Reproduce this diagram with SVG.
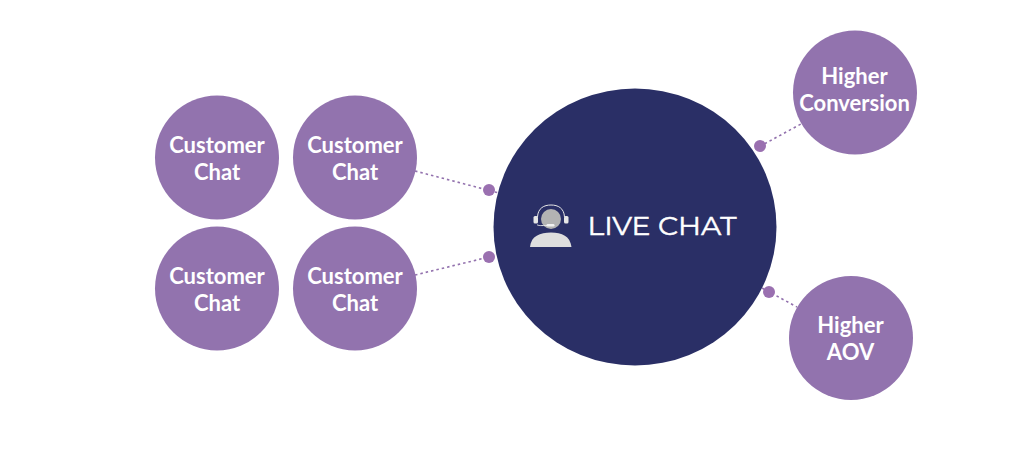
<svg xmlns="http://www.w3.org/2000/svg" width="1030" height="470" viewBox="0 0 1030 470">
<style>
.bub{fill:#9273ae}
.t{font-family:Lato,"Open Sans",sans-serif;font-weight:700;font-size:22px;fill:#fff;text-anchor:middle}
.c{stroke:#9372ae;stroke-width:1.6;stroke-dasharray:2.5 3;fill:none}
.d{fill:#9a70b0}
</style>
<rect width="1030" height="470" fill="#fff"/>
<g id="connectors">
<path class="c" d="M415 171L499 193"/>
<path class="c" d="M415 275L489 257"/>
<path class="c" d="M755 149L801 124"/>
<path class="c" d="M762 288L797 307"/>
<circle class="d" cx="489" cy="190" r="6"/>
<circle class="d" cx="489" cy="257" r="6"/>
<circle class="d" cx="760" cy="146" r="6"/>
<circle class="d" cx="769" cy="292" r="6"/>
</g>
<g id="chat1"><circle class="bub" cx="217" cy="157.500" r="62"/><text class="t" x="217" y="153">Customer</text><text class="t" x="217" y="180">Chat</text></g>
<g id="chat2"><circle class="bub" cx="355" cy="157.500" r="62"/><text class="t" x="355" y="153">Customer</text><text class="t" x="355" y="180">Chat</text></g>
<g id="chat3"><circle class="bub" cx="217" cy="288.500" r="62"/><text class="t" x="217" y="284">Customer</text><text class="t" x="217" y="311">Chat</text></g>
<g id="chat4"><circle class="bub" cx="355" cy="288.500" r="62"/><text class="t" x="355" y="284">Customer</text><text class="t" x="355" y="311">Chat</text></g>
<g id="conversion"><circle class="bub" cx="855" cy="92.500" r="62"/><text class="t" x="854.500" y="84">Higher</text><text class="t" x="854.500" y="111">Conversion</text></g>
<g id="aov"><circle class="bub" cx="851" cy="338" r="62"/><text class="t" x="850.500" y="333">Higher</text><text class="t" x="850.500" y="360">AOV</text></g>
<g id="live-chat">
<ellipse cx="635" cy="227" rx="141.500" ry="138.500" fill="#2a2f66"/>
<path d="M530 247C531 236 540 232.500 551 232.500C562 232.500 570 236 571.500 247Z" fill="#dedede"/>
<circle cx="551" cy="219" r="10" fill="#b3b3b3"/>
<path d="M537.500 217C538 208 544 205 551 205C558 205 564 208 564.500 217" fill="none" stroke="#e6e6e6" stroke-width="1"/>
<rect x="533.500" y="216" width="4.500" height="7.500" rx="1.500" fill="#e6e6e6"/>
<rect x="564" y="216" width="4.500" height="7.500" rx="1.500" fill="#e6e6e6"/>
<path d="M537 224.500C538 226 542 225.500 547 225.500" fill="none" stroke="#e6e6e6" stroke-width="1"/>
<rect x="546.500" y="224" width="8" height="2.500" rx="1.200" fill="#f2f2f2"/>
<text x="587.500" y="235" font-family="Montserrat,Inter,'Noto Sans',sans-serif" font-size="26.500" fill="#fff" stroke="#fff" stroke-width="0.500" textLength="149" lengthAdjust="spacingAndGlyphs">LIVE CHAT</text>
</g>
</svg>
